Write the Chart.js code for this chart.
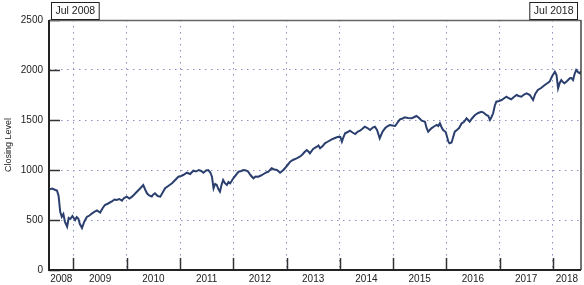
<!DOCTYPE html>
<html>
<head>
<meta charset="utf-8">
<script src="https://cdn.jsdelivr.net/npm/chart.js@4.4.1/dist/chart.umd.min.js"></script>
<style>
  html, body { margin: 0; padding: 0; background: #fff; }
</style>
</head>
<body>
<canvas id="closingChart" width="584" height="285"></canvas>
<script>
// closing level (x in decimal years)
const years = [
  2008.54, 2008.60, 2008.66, 2008.69, 2008.72, 2008.75, 2008.78, 2008.81, 2008.84, 2008.88,
  2008.91, 2008.94, 2008.98, 2009.03, 2009.06, 2009.09, 2009.12, 2009.16, 2009.20, 2009.25,
  2009.30, 2009.35, 2009.40, 2009.44, 2009.50, 2009.55, 2009.59, 2009.65, 2009.72, 2009.77,
  2009.81, 2009.86, 2009.91, 2009.95, 2010.00, 2010.05, 2010.10, 2010.15, 2010.19, 2010.25,
  2010.31, 2010.35, 2010.38, 2010.42, 2010.47, 2010.50, 2010.53, 2010.58, 2010.63, 2010.68,
  2010.72, 2010.78, 2010.85, 2010.91, 2010.97, 2011.02, 2011.06, 2011.13, 2011.19, 2011.25,
  2011.30, 2011.35, 2011.40, 2011.44, 2011.49, 2011.53, 2011.57, 2011.60, 2011.63, 2011.66,
  2011.69, 2011.72, 2011.75, 2011.78, 2011.81, 2011.84, 2011.88, 2011.91, 2011.94, 2011.97,
  2012.00, 2012.05, 2012.10, 2012.15, 2012.19, 2012.24, 2012.28, 2012.33, 2012.38, 2012.42,
  2012.47, 2012.52, 2012.57, 2012.62, 2012.66, 2012.72, 2012.77, 2012.82, 2012.88, 2012.93,
  2012.97, 2013.02, 2013.07, 2013.12, 2013.19, 2013.24, 2013.29, 2013.34, 2013.38, 2013.42,
  2013.44, 2013.50, 2013.57, 2013.60, 2013.63, 2013.68, 2013.72, 2013.78, 2013.85, 2013.91,
  2013.97, 2014.01, 2014.04, 2014.07, 2014.10, 2014.15, 2014.19, 2014.24, 2014.29, 2014.34,
  2014.38, 2014.42, 2014.47, 2014.52, 2014.57, 2014.62, 2014.66, 2014.70, 2014.75, 2014.80,
  2014.85, 2014.90, 2014.94, 2014.99, 2015.04, 2015.08, 2015.13, 2015.18, 2015.22, 2015.28,
  2015.35, 2015.40, 2015.44, 2015.49, 2015.54, 2015.60, 2015.63, 2015.66, 2015.69, 2015.72,
  2015.77, 2015.82, 2015.85, 2015.88, 2015.91, 2015.94, 2015.99, 2016.04, 2016.06, 2016.10,
  2016.13, 2016.16, 2016.20, 2016.24, 2016.29, 2016.33, 2016.38, 2016.41, 2016.44, 2016.49,
  2016.54, 2016.60, 2016.66, 2016.70, 2016.75, 2016.79, 2016.82, 2016.85, 2016.88, 2016.91,
  2016.94, 2016.99, 2017.04, 2017.08, 2017.13, 2017.17, 2017.22, 2017.27, 2017.32, 2017.36,
  2017.41, 2017.46, 2017.51, 2017.57, 2017.60, 2017.63, 2017.67, 2017.72, 2017.78, 2017.85,
  2017.89, 2017.94, 2017.99, 2018.04, 2018.07, 2018.10, 2018.13, 2018.16, 2018.19, 2018.22,
  2018.27, 2018.32, 2018.35, 2018.38, 2018.41, 2018.44, 2018.48, 2018.51, 2018.53
];
const closing = [
  805, 815, 800, 795, 740, 585, 533, 560, 480, 433,
  520, 510, 540, 500, 530, 515, 460, 420, 480, 530,
  545, 567, 585, 595, 575, 620, 650, 665, 685, 705,
  700, 710, 693, 720, 733, 715, 733, 760, 783, 815,
  850, 800, 767, 745, 735, 755, 767, 740, 733, 780,
  817, 840, 867, 900, 933, 940, 950, 973, 960, 993,
  985, 1000, 990, 973, 995, 1000, 975, 933, 817, 860,
  850, 810, 783, 850, 900, 870, 850, 880, 867, 890,
  917, 950, 983, 990, 1000, 995, 983, 945, 917, 935,
  933, 945, 960, 975, 983, 1017, 1005, 1000, 973, 995,
  1017, 1050, 1083, 1100, 1117, 1130, 1150, 1180, 1200, 1180,
  1167, 1210, 1233, 1245, 1217, 1240, 1267, 1285, 1307, 1320,
  1333, 1330, 1283, 1330, 1367, 1380, 1393, 1375, 1360, 1385,
  1393, 1410, 1433, 1420, 1400, 1425, 1433, 1400, 1317, 1380,
  1417, 1440, 1450, 1445, 1440, 1470, 1507, 1515, 1527, 1520,
  1517, 1530, 1540, 1520, 1493, 1483, 1420, 1383, 1400, 1417,
  1435, 1450, 1440, 1467, 1430, 1400, 1380, 1283, 1267, 1275,
  1330, 1383, 1400, 1420, 1467, 1480, 1517, 1500, 1483, 1520,
  1550, 1570, 1583, 1575, 1550, 1540, 1500, 1530, 1567, 1640,
  1683, 1690, 1700, 1715, 1733, 1720, 1707, 1730, 1750, 1740,
  1733, 1755, 1767, 1750, 1725, 1700, 1760, 1800, 1820, 1850,
  1865, 1883, 1940, 1983, 1950, 1817, 1870, 1900, 1880, 1867,
  1890, 1917, 1920, 1900, 1960, 2000, 1975, 1967, 1990
];
const yTicks = [0, 500, 1000, 1500, 2000, 2500];
const yearBreaks = [2009, 2010, 2011, 2012, 2013, 2014, 2015, 2016, 2017, 2018];
const rangeStart = 2008.54;
const rangeEnd = 2018.53;
const rangeLabels = ["Jul 2008", "Jul 2018"];

// year labels sit in the middle of the visible part of each year
const bounds = [rangeStart, ...yearBreaks, rangeEnd];
const labelSpots = bounds.slice(0, -1).map((b, i) => (b + bounds[i + 1]) / 2);

const FONT = "'Liberation Sans', Arial, Helvetica, sans-serif";
const gridDots = "#8a91c0";
const dots = [1.5, 4.5];

const framePlugin = {
  id: "frame",
  afterDraw(chart) {
    const { ctx, chartArea: a, scales } = chart;
    ctx.save();
    // inner tick marks
    ctx.strokeStyle = "#333";
    ctx.lineWidth = 1.5;
    yTicks.forEach(v => {
      const y = Math.round(scales.y.getPixelForValue(v)) + 0.5;
      ctx.beginPath();
      ctx.moveTo(a.left, y);
      ctx.lineTo(a.left + 11, y);
      ctx.stroke();
    });
    yearBreaks.forEach(v => {
      const x = Math.round(scales.x.getPixelForValue(v)) + 0.5;
      ctx.beginPath();
      ctx.moveTo(x, a.bottom);
      ctx.lineTo(x, a.bottom - 12);
      ctx.stroke();
    });
    // frame
    ctx.strokeStyle = "#666";
    ctx.lineWidth = 1.5;
    ctx.beginPath();
    ctx.moveTo(a.left, a.top + 0.5);
    ctx.lineTo(a.right, a.top + 0.5);
    ctx.stroke();
    ctx.strokeStyle = "#444";
    ctx.beginPath();
    ctx.moveTo(a.right, a.top);
    ctx.lineTo(a.right, a.bottom);
    ctx.stroke();
    ctx.strokeStyle = "#222";
    ctx.lineWidth = 2;
    ctx.beginPath();
    ctx.moveTo(a.left, a.top);
    ctx.lineTo(a.left, a.bottom);
    ctx.lineTo(a.right, a.bottom);
    ctx.stroke();

    // range labels in boxes above the corners
    ctx.font = "10.5px " + FONT;
    ctx.textBaseline = "middle";
    const drawBox = (text, x, alignRight) => {
      const w = ctx.measureText(text).width + 8;
      const left = alignRight ? x - w : x;
      ctx.fillStyle = "#fff";
      ctx.fillRect(left, 2, w, 17);
      ctx.strokeStyle = "#222";
      ctx.lineWidth = 1;
      ctx.strokeRect(left + 0.5, 2.5, w, 17);
      ctx.fillStyle = "#222";
      ctx.textAlign = "left";
      ctx.fillText(text, left + 4.5, 11.5);
    };
    drawBox(rangeLabels[0], scales.x.getPixelForValue(rangeStart) + 2, false);
    drawBox(rangeLabels[1], scales.x.getPixelForValue(rangeEnd) - 4, true);
    ctx.restore();
  }
};

new Chart(document.getElementById("closingChart"), {
  type: "line",
  data: {
    datasets: [{
      data: years.map((x, i) => ({ x: x, y: closing[i] })),
      borderColor: "#2b3f6f",
      borderWidth: 2,
      pointRadius: 0,
      tension: 0,
      fill: false
    }]
  },
  options: {
    responsive: false,
    animation: false,
    devicePixelRatio: 1,
    layout: { padding: { top: 20, right: 3, left: 0, bottom: 0 } },
    plugins: { legend: { display: false }, tooltip: { enabled: false } },
    scales: {
      x: {
        type: "linear",
        min: rangeStart,
        max: rangeEnd,
        afterFit: s => { s.height = 15; },
        afterBuildTicks: s => {
          s.ticks = [...yearBreaks, ...labelSpots].sort((p, q) => p - q).map(v => ({ value: v }));
        },
        border: { display: false, dash: dots },
        grid: {
          drawTicks: false,
          color: c => Number.isInteger(c.tick && c.tick.value) ? gridDots : "rgba(0,0,0,0)",
          lineWidth: 1
        },
        ticks: {
          autoSkip: false,
          maxRotation: 0,
          padding: 3,
          color: "#222",
          font: { family: FONT, size: 10 },
          callback: v => Number.isInteger(v) ? "" : String(Math.floor(v))
        }
      },
      y: {
        min: 0,
        max: 2500,
        afterFit: s => { s.width = 49; },
        afterBuildTicks: s => { s.ticks = yTicks.map(v => ({ value: v })); },
        border: { display: false, dash: dots },
        grid: {
          drawTicks: false,
          color: c => (c.tick && (c.tick.value === 0 || c.tick.value === 2500)) ? "rgba(0,0,0,0)" : gridDots,
          lineWidth: 1
        },
        ticks: {
          padding: 6,
          color: "#222",
          font: { family: FONT, size: 10 },
          callback: v => String(v)
        },
        title: {
          display: true,
          text: "Closing Level",
          color: "#222",
          font: { family: FONT, size: 9 },
          padding: { top: 3, bottom: 0 }
        }
      }
    }
  },
  plugins: [framePlugin]
});
</script>
</body>
</html>
